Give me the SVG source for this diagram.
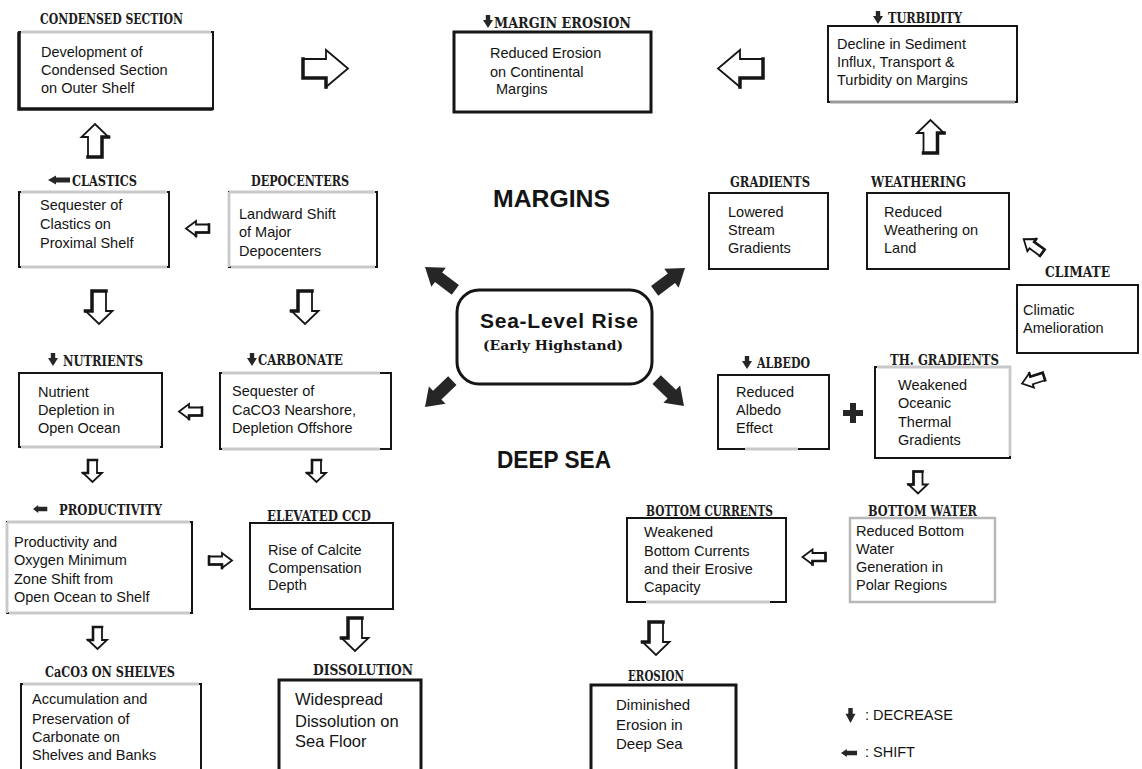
<svg xmlns="http://www.w3.org/2000/svg" xmlns:xlink="http://www.w3.org/1999/xlink" width="1142" height="769" viewBox="0 0 1142 769">
  <style>
    .bx { fill: #fff; stroke: #151515; stroke-width: 2; }
    .bx3 { fill: #fff; stroke: #151515; stroke-width: 3; }
    .bxg { fill: #fff; stroke: #b8b8b8; stroke-width: 2.5; }
    .fade { stroke: #c9c9c9; stroke-width: 2.8; fill: none; }
    .hd { font-family: "DejaVu Serif Condensed", "DejaVu Serif", serif; font-weight: bold; font-stretch: condensed; font-size: 15px; fill: #1c1c1c; }
    .tx { font-family: "Liberation Sans", Arial, sans-serif; font-size: 14.5px; fill: #141414; }
    .tx16 { font-size: 16.5px; }
    .tx15 { font-size: 15px; }
    .big { font-family: "Liberation Sans", Arial, sans-serif; font-weight: bold; fill: #141414; }
    .ser { font-family: "DejaVu Serif", "Liberation Serif", serif; font-weight: bold; fill: #141414; }
    .ho { fill: #fff; stroke: #151515; stroke-width: 1.8; stroke-linejoin: miter; }
    .sh { fill: none; stroke: #151515; stroke-width: 3.5; stroke-linecap: square; }
    .fa { fill: #262626; }
  </style>
  <defs>
    <!-- hollow block arrows, pointing right, centred on the origin; thick line marks the tail -->
    <g id="arrA">
      <path class="ho" d="M-22.5,-9.5 H0.5 V-18.5 L22.5,0 L0.5,18.5 V9.5 H-22.5 Z"/>
      <path class="sh" d="M-22.5,-9.5 V9.5 H0.5 V18.5"/>
    </g>
    <g id="arrB">
      <path class="ho" d="M-16.5,-7 H3.5 V-13.5 L16.5,0 L3.5,13.5 V7 H-16.5 Z"/>
      <path class="sh" d="M-16.5,-7 V7 H3.5 V13.5"/>
    </g>
    <g id="arrC">
      <path class="ho" d="M-11.5,-4 H1.5 V-7.5 L11.5,0 L1.5,7.5 V4 H-11.5 Z"/>
      <path class="sh" style="stroke-width:2.6" d="M-11.5,-4 V4 H1.5 V7.5"/>
    </g>
    <g id="arrD">
      <path class="ho" d="M-11,-4.5 H2 V-9.5 L11,0 L2,9.5 V4.5 H-11 Z"/>
      <path class="sh" style="stroke-width:2.6" d="M-11,-4.5 V4.5 H2 V9.5"/>
    </g>
    <!-- solid arrow leaving the central box, tip at the origin -->
    <path id="solid" class="fa" d="M0,0 L-17,-12 L-17,-6 L-38,-6 L-38,6 L-17,6 L-17,12 Z"/>
    <!-- small solid markers: decrease (down) and shift (left) -->
    <path id="dec" class="fa" d="M-2.2,0 H2.2 V5 H5 L0,13 L-5,5 H-2.2 Z"/>
    <path id="shift" class="fa" d="M0,0 L8,-4.5 V-2.5 H22 V2.5 H8 V4.5 Z"/>
  </defs>

  <rect width="1142" height="769" fill="#fff"/>

  <!-- connectors -->
  <g id="connectors">
    <use href="#arrA" transform="translate(325.5,68.5)"/>
    <use href="#arrA" transform="translate(740.5,68.5) scale(-1,1)"/>
    <use href="#arrB" transform="translate(930.5,136.5) rotate(-90)"/>
    <use href="#arrB" transform="translate(95,140.5) rotate(-90)"/>
    <use href="#arrB" transform="translate(99,307.5) rotate(90)"/>
    <use href="#arrB" transform="translate(305,307.5) rotate(90)"/>
    <use href="#arrB" transform="translate(355,634.5) rotate(90)"/>
    <use href="#arrB" transform="translate(656,638.5) rotate(90)"/>
    <use href="#arrC" transform="translate(197.5,228.5) scale(-1,1)"/>
    <use href="#arrC" transform="translate(190.5,411.5) scale(-1,1)"/>
    <use href="#arrC" transform="translate(220.5,560.5)"/>
    <use href="#arrC" transform="translate(814,557) scale(-1,1)"/>
    <use href="#arrD" transform="translate(92.5,471) rotate(90)"/>
    <use href="#arrD" transform="translate(316.5,471) rotate(90)"/>
    <use href="#arrD" transform="translate(97.5,638) rotate(90)"/>
    <use href="#arrD" transform="translate(918,482.5) rotate(90)"/>
    <use href="#arrC" transform="translate(1033,246) rotate(216)"/>
    <use href="#arrC" transform="translate(1033,380) rotate(162)"/>
    <use href="#solid" transform="translate(425,267) rotate(217)"/>
    <use href="#solid" transform="translate(685,268) rotate(-37)"/>
    <use href="#solid" transform="translate(425,407) rotate(136)"/>
    <use href="#solid" transform="translate(684,406) rotate(44)"/>
    <!-- plus sign joining albedo and thermal gradients -->
    <path class="fa" d="M850,403 H856 V410 H863 V416 H856 V423 H850 V416 H843 V410 H850 Z"/>
  </g>

  <!-- region labels -->
  <text class="big" x="493" y="207" font-size="23px" textLength="117" lengthAdjust="spacingAndGlyphs">MARGINS</text>
  <text class="big" x="497" y="468" font-size="23px" textLength="114" lengthAdjust="spacingAndGlyphs">DEEP SEA</text>

  <!-- central node -->
  <g id="sea-level-rise">
    <rect x="457" y="290" width="195" height="94" rx="22" fill="#fff" stroke="#151515" stroke-width="3"/>
    <text class="big" x="480" y="328" font-size="21px" textLength="158" lengthAdjust="spacing">Sea-Level Rise</text>
    <text class="ser" x="483" y="350" font-size="13px" textLength="140" lengthAdjust="spacingAndGlyphs">(Early Highstand)</text>
  </g>

  <g id="condensed-section">
    <rect class="bx" x="19" y="32" width="194" height="77"/>
    <path class="fade" d="M21,32 H211"/>
    <path class="sh" d="M19,34 V109 H211"/>
    <text class="hd" x="40" y="24" textLength="143" lengthAdjust="spacingAndGlyphs">CONDENSED SECTION</text>
    <text class="tx" x="41" y="57">Development of</text>
    <text class="tx" x="41" y="75">Condensed Section</text>
    <text class="tx" x="41" y="93">on Outer Shelf</text>
  </g>

  <g id="margin-erosion">
    <rect class="bx3" x="454" y="32" width="197" height="80"/>
    <use href="#dec" transform="translate(488,15)"/>
    <text class="hd" x="494" y="28" textLength="137" lengthAdjust="spacingAndGlyphs">MARGIN EROSION</text>
    <text class="tx" x="490" y="58">Reduced Erosion</text>
    <text class="tx" x="490" y="77">on  Continental</text>
    <text class="tx" x="496" y="94">Margins</text>
  </g>

  <g id="turbidity">
    <rect class="bx" x="828" y="26" width="189" height="76"/>
    <path class="fade" style="stroke:#9a9a9a" d="M830,102 H1015"/>
    <use href="#dec" transform="translate(878,11)"/>
    <text class="hd" x="888" y="23" textLength="74" lengthAdjust="spacingAndGlyphs">TURBIDITY</text>
    <text class="tx" x="837" y="49">Decline in Sediment</text>
    <text class="tx" x="837" y="67">Influx, Transport &amp;</text>
    <text class="tx" x="837" y="85">Turbidity on Margins</text>
  </g>

  <g id="clastics">
    <rect class="bx" x="19" y="192" width="150" height="75"/>
    <path class="fade" d="M21,192 H167 M21,267 H167"/>
    <use href="#shift" transform="translate(48,180)"/>
    <text class="hd" x="72" y="186" textLength="65" lengthAdjust="spacingAndGlyphs">CLASTICS</text>
    <text class="tx" x="40" y="210">Sequester of</text>
    <text class="tx" x="40" y="229">Clastics on</text>
    <text class="tx" x="40" y="248">Proximal Shelf</text>
  </g>

  <g id="depocenters">
    <rect class="bx" x="229" y="192" width="148" height="75"/>
    <path class="fade" d="M229,192 H375 M229,192 V267 M231,267 H375"/>
    <text class="hd" x="251" y="186" textLength="98" lengthAdjust="spacingAndGlyphs">DEPOCENTERS</text>
    <text class="tx" x="239" y="219">Landward  Shift</text>
    <text class="tx" x="239" y="237">of Major</text>
    <text class="tx" x="239" y="256">Depocenters</text>
  </g>

  <g id="gradients">
    <rect class="bx" x="709" y="193" width="119" height="76"/>
    <text class="hd" x="730" y="187" textLength="80" lengthAdjust="spacingAndGlyphs">GRADIENTS</text>
    <text class="tx" x="728" y="217">Lowered</text>
    <text class="tx" x="728" y="235">Stream</text>
    <text class="tx" x="728" y="253">Gradients</text>
  </g>

  <g id="weathering">
    <rect class="bx" x="867" y="193" width="142" height="76"/>
    <text class="hd" x="871" y="187" textLength="95" lengthAdjust="spacingAndGlyphs">WEATHERING</text>
    <text class="tx" x="884" y="217">Reduced</text>
    <text class="tx" x="884" y="235">Weathering on</text>
    <text class="tx" x="884" y="253">Land</text>
  </g>

  <g id="climate">
    <rect class="bx" x="1017" y="285" width="121" height="68"/>
    <text class="hd" x="1045" y="277" textLength="65" lengthAdjust="spacingAndGlyphs">CLIMATE</text>
    <text class="tx" x="1023" y="315">Climatic</text>
    <text class="tx" x="1023" y="333">Amelioration</text>
  </g>

  <g id="albedo">
    <rect class="bx" x="718" y="375" width="111" height="74"/>
    <path class="fade" d="M745,449 H798"/>
    <use href="#dec" transform="translate(747,356)"/>
    <text class="hd" x="757" y="368" textLength="53" lengthAdjust="spacingAndGlyphs">ALBEDO</text>
    <text class="tx" x="736" y="397">Reduced</text>
    <text class="tx" x="736" y="415">Albedo</text>
    <text class="tx" x="736" y="433">Effect</text>
  </g>

  <g id="thermal-gradients">
    <rect class="bx" x="875" y="367" width="135" height="91"/>
    <path class="fade" d="M877,367 H1010 V456"/>
    <text class="hd" x="890" y="365" textLength="109" lengthAdjust="spacingAndGlyphs">TH. GRADIENTS</text>
    <text class="tx" x="898" y="390">Weakened</text>
    <text class="tx" x="898" y="408">Oceanic</text>
    <text class="tx" x="898" y="427">Thermal</text>
    <text class="tx" x="898" y="445">Gradients</text>
  </g>

  <g id="nutrients">
    <rect class="bx" x="19" y="373" width="143" height="74"/>
    <path class="fade" d="M21,447 H160"/>
    <use href="#dec" transform="translate(53,353)"/>
    <text class="hd" x="63" y="366" textLength="80" lengthAdjust="spacingAndGlyphs">NUTRIENTS</text>
    <text class="tx" x="38" y="397">Nutrient</text>
    <text class="tx" x="38" y="415">Depletion in</text>
    <text class="tx" x="38" y="433">Open Ocean</text>
  </g>

  <g id="carbonate">
    <rect class="bx" x="220" y="373" width="171" height="76"/>
    <path class="fade" d="M222,373 H380 M222,449 H380"/>
    <use href="#dec" transform="translate(252,353)"/>
    <text class="hd" x="258" y="365" textLength="85" lengthAdjust="spacingAndGlyphs">CARBONATE</text>
    <text class="tx" x="232" y="396">Sequester of</text>
    <text class="tx" x="232" y="415">CaCO3 Nearshore,</text>
    <text class="tx" x="232" y="433">Depletion Offshore</text>
  </g>

  <g id="productivity">
    <rect class="bx" x="7" y="522" width="185" height="91"/>
    <path class="fade" d="M7,522 H190 M7,522 V613 M9,613 H190"/>
    <use href="#shift" transform="translate(33,509) scale(0.65,0.9)"/>
    <text class="hd" x="59" y="515" textLength="103" lengthAdjust="spacingAndGlyphs">PRODUCTIVITY</text>
    <text class="tx" x="14" y="547">Productivity and</text>
    <text class="tx" x="14" y="565">Oxygen Minimum</text>
    <text class="tx" x="14" y="584">Zone Shift from</text>
    <text class="tx" x="14" y="602">Open Ocean to Shelf</text>
  </g>

  <g id="elevated-ccd">
    <rect class="bx" x="250" y="523" width="143" height="86"/>
    <text class="hd" x="267" y="521" textLength="104" lengthAdjust="spacingAndGlyphs">ELEVATED CCD</text>
    <text class="tx" x="268" y="555">Rise of Calcite</text>
    <text class="tx" x="268" y="573">Compensation</text>
    <text class="tx" x="268" y="590">Depth</text>
  </g>

  <g id="caco3-on-shelves">
    <rect class="bx" x="21" y="684" width="180" height="95"/>
    <path class="fade" d="M23,684 H199"/>
    <text class="hd" x="45" y="677" textLength="130" lengthAdjust="spacingAndGlyphs">CaCO3 ON SHELVES</text>
    <text class="tx" x="32" y="704">Accumulation and</text>
    <text class="tx" x="32" y="724">Preservation of</text>
    <text class="tx" x="32" y="742">Carbonate on</text>
    <text class="tx" x="32" y="760">Shelves and Banks</text>
  </g>

  <g id="dissolution">
    <rect class="bx3" x="279" y="680" width="142" height="99"/>
    <text class="hd" x="313" y="675" font-size="16px" textLength="100" lengthAdjust="spacingAndGlyphs">DISSOLUTION</text>
    <text class="tx tx16" x="295" y="705">Widespread</text>
    <text class="tx tx16" x="295" y="727">Dissolution on</text>
    <text class="tx tx16" x="295" y="747">Sea Floor</text>
  </g>

  <g id="bottom-currents">
    <rect class="bx" x="627" y="518" width="159" height="84"/>
    <path class="fade" d="M646,602 H770"/>
    <text class="hd" x="646" y="516" textLength="127" lengthAdjust="spacingAndGlyphs">BOTTOM CURRENTS</text>
    <text class="tx" x="644" y="537">Weakened</text>
    <text class="tx" x="644" y="556">Bottom Currents</text>
    <text class="tx" x="644" y="574">and their Erosive</text>
    <text class="tx" x="644" y="592">Capacity</text>
  </g>

  <g id="bottom-water">
    <rect class="bxg" x="850" y="518" width="145" height="84"/>
    <text class="hd" x="868" y="516" textLength="109" lengthAdjust="spacingAndGlyphs">BOTTOM WATER</text>
    <text class="tx" x="856" y="536">Reduced Bottom</text>
    <text class="tx" x="856" y="554">Water</text>
    <text class="tx" x="856" y="572">Generation in</text>
    <text class="tx" x="856" y="590">Polar Regions</text>
  </g>

  <g id="erosion">
    <rect class="bx3" x="591" y="685" width="145" height="94"/>
    <text class="hd" x="628" y="681" textLength="56" lengthAdjust="spacingAndGlyphs">EROSION</text>
    <text class="tx tx15" x="616" y="710">Diminished</text>
    <text class="tx tx15" x="616" y="730">Erosion in</text>
    <text class="tx tx15" x="616" y="749">Deep Sea</text>
  </g>

  <g id="legend">
    <use href="#dec" transform="translate(850.5,708) scale(1,1.15)"/>
    <text class="tx" x="865" y="720" font-size="13px">: DECREASE</text>
    <use href="#shift" transform="translate(841,753) scale(0.73,0.9)"/>
    <text class="tx" x="865" y="757" font-size="13px">: SHIFT</text>
  </g>
</svg>
